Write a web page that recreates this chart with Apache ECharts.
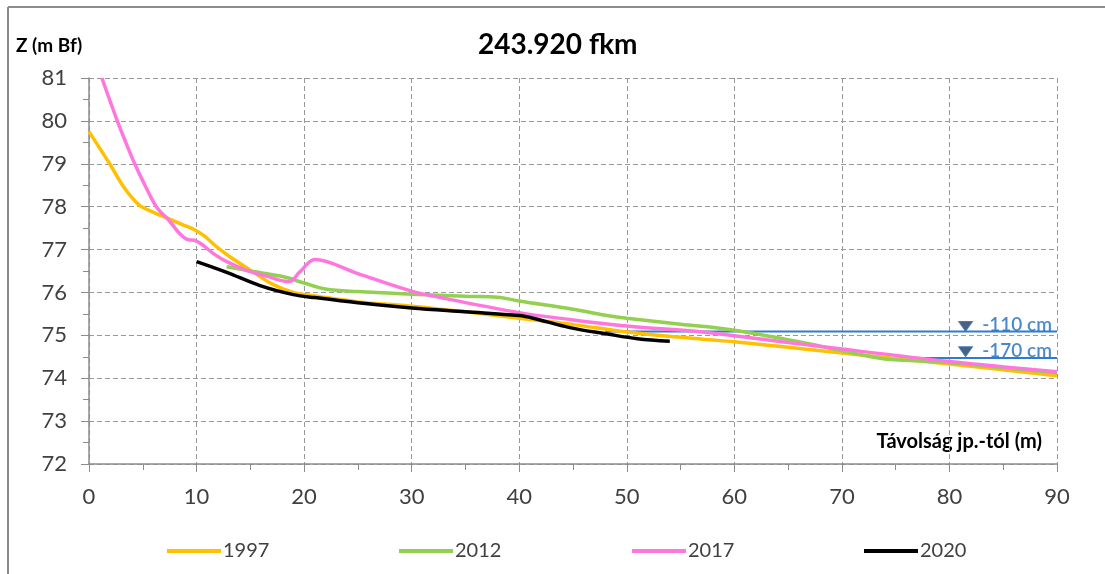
<!DOCTYPE html>
<html><head><meta charset="utf-8">
<script src="https://cdn.jsdelivr.net/npm/echarts@6/dist/echarts.min.js"></script>
<style>html,body{margin:0;padding:0;background:#fff}#c{width:1105px;height:574px}</style>
</head><body><div id="c"></div>
<script>
const titleText = '243.920 fkm';
const yAxisTitle = 'Z (m Bf)';
const xAxisTitle = 'Távolság jp.-tól (m)';
const seriesNames = ['1997', '2012', '2017', '2020'];
const seriesColors = ['#FFC000', '#92D050', '#FF77DD', '#000000'];

const s1997 = [[0,79.75],[1.92,79.0],[3.31,78.43],[4.7,78.03],[5.9,77.88],[7.4,77.72],[8.9,77.56],[9.9,77.45],[10.8,77.3],[11.7,77.1],[13,76.85],[15,76.52],[17,76.2],[19,76.0],[21,75.92],[25,75.78],[30,75.68],[35,75.55],[40,75.4],[45,75.25],[50,75.08],[57,74.91],[60,74.85],[70,74.59],[80,74.33],[90,74.06]];
const s2012 = [[12.8,76.6],[15,76.5],[18,76.37],[20,76.22],[22,76.08],[25,76.02],[30,75.96],[35,75.91],[38,75.89],[40,75.8],[45,75.61],[48,75.47],[50,75.4],[55,75.26],[60,75.12],[66,74.85],[70,74.64],[74,74.45],[76,74.42],[80,74.36],[90,74.12]];
const s2017 = [[1.2,81.0],[2.63,80.0],[3.42,79.5],[4.25,79.0],[5.2,78.5],[6.26,78.0],[7.5,77.66],[8.4,77.38],[9.2,77.23],[9.9,77.21],[10.6,77.1],[11.6,76.9],[12.8,76.72],[14.7,76.51],[16.5,76.38],[18.6,76.25],[19.6,76.48],[21,76.77],[25,76.44],[30,76.03],[33.3,75.85],[40,75.53],[45,75.36],[50,75.22],[57,75.08],[60,74.99],[70,74.68],[80,74.39],[90,74.15]];
const s2020 = [[10,76.72],[12.8,76.47],[15.9,76.16],[19,75.95],[21,75.88],[25,75.76],[30,75.64],[35,75.55],[40,75.46],[41.3,75.4],[44.7,75.18],[48.2,75.03],[51,74.92],[54,74.86]];
const seriesData = [s1997, s2012, s2017, s2020];

const levelNames = ['-110 cm', '-170 cm'];
const levelValues = [75.09, 74.47];
const levelStarts = [48, 74];
const levelMarkerX = 81.5;
const levelMarkerOffsets = [0.12, 0.15];

const xTicks = { min: 0, max: 90, interval: 10 };
const yTicks = { min: 72, max: 81, interval: 1 };

const FONT = 'Lato, "Open Sans", sans-serif';
const chart = echarts.init(document.getElementById('c'));

const series = seriesNames.map((n, i) => ({
  name: n, type: 'line', data: seriesData[i], smooth: 0.35, showSymbol: false, symbol: 'none',
  lineStyle: { color: seriesColors[i], width: 3.5 }, itemStyle: { color: seriesColors[i] }, z: 3 + i,
  clip: true
}));
levelNames.forEach((n, i) => {
  series.push({
    name: n, type: 'line', data: [[levelStarts[i], levelValues[i]], [xTicks.max, levelValues[i]]],
    showSymbol: false, symbol: 'none', lineStyle: { color: '#2E7BCF', width: 2 }, z: 2, silent: true
  });
  series.push({
    name: n + ' marker', type: 'scatter', data: [[levelMarkerX, levelValues[i] + levelMarkerOffsets[i]]],
    symbol: 'triangle', symbolRotate: 180, symbolSize: [14, 10],
    itemStyle: { color: '#1F3864', borderColor: '#2E75B6', borderWidth: 1 }, z: 10,
    label: { show: true, position: 'right', distance: 9, formatter: n, color: '#1A6BBE', fontSize: 19, fontWeight: 600, fontFamily: FONT, offset: [0, -1] }
  });
});

const legends = seriesNames.map((n, i) => ({
  data: [n], left: [162, 394, 627, 859][i], top: 536, icon: 'rect', itemWidth: 54, itemHeight: 4,
  itemGap: 0, textStyle: { fontSize: 20, fontFamily: FONT, color: '#404040', padding: [0, 0, 0, -3] }, selectedMode: false
}));

chart.setOption({
  animation: false,
  backgroundColor: '#fff',
  grid: { left: 89, top: 78, right: 48, bottom: 110, containLabel: false },
  legend: legends,
  xAxis: {
    type: 'value', min: xTicks.min, max: xTicks.max, interval: xTicks.interval,
    axisLine: { lineStyle: { color: '#8C8C8C', width: 1.5 } },
    axisTick: { show: true, length: 8, lineStyle: { color: '#8C8C8C' } },
    minorTick: { show: true, splitNumber: 2, length: 6, lineStyle: { color: '#8C8C8C' } },
    axisLabel: { fontSize: 22, fontFamily: FONT, color: '#404040', margin: 22 },
    splitLine: { show: true, lineStyle: { color: '#999', type: [5, 3], width: 1 } }
  },
  yAxis: {
    type: 'value', min: yTicks.min, max: yTicks.max, interval: yTicks.interval,
    axisLine: { show: true, lineStyle: { color: '#8C8C8C', width: 1.5 } },
    axisTick: { show: true, length: 8, lineStyle: { color: '#8C8C8C' } },
    minorTick: { show: true, splitNumber: 2, length: 6, lineStyle: { color: '#8C8C8C' } },
    axisLabel: { fontSize: 22, fontFamily: FONT, color: '#404040', margin: 22 },
    splitLine: { show: true, lineStyle: { color: '#999', type: [5, 3], width: 1 } }
  },
  graphic: [
    { type: 'line', shape: { x1: 8, y1: 7, x2: 1105, y2: 7 }, style: { stroke: '#8C8C8C', lineWidth: 2 } },
    { type: 'line', shape: { x1: 8, y1: 7, x2: 8, y2: 574 }, style: { stroke: '#8C8C8C', lineWidth: 2 } },
    { type: 'text', left: 478, top: 31, style: { text: titleText, font: 'bold 28px ' + FONT, fill: '#000' } },
    { type: 'text', left: 16, top: 36, style: { text: yAxisTitle, font: 'bold 19px ' + FONT, fill: '#000' } },
    { type: 'text', right: 63, top: 432, style: { text: xAxisTitle, font: 'bold 20px ' + FONT, fill: '#000' } }
  ],
  series: series
});
</script></body></html>
